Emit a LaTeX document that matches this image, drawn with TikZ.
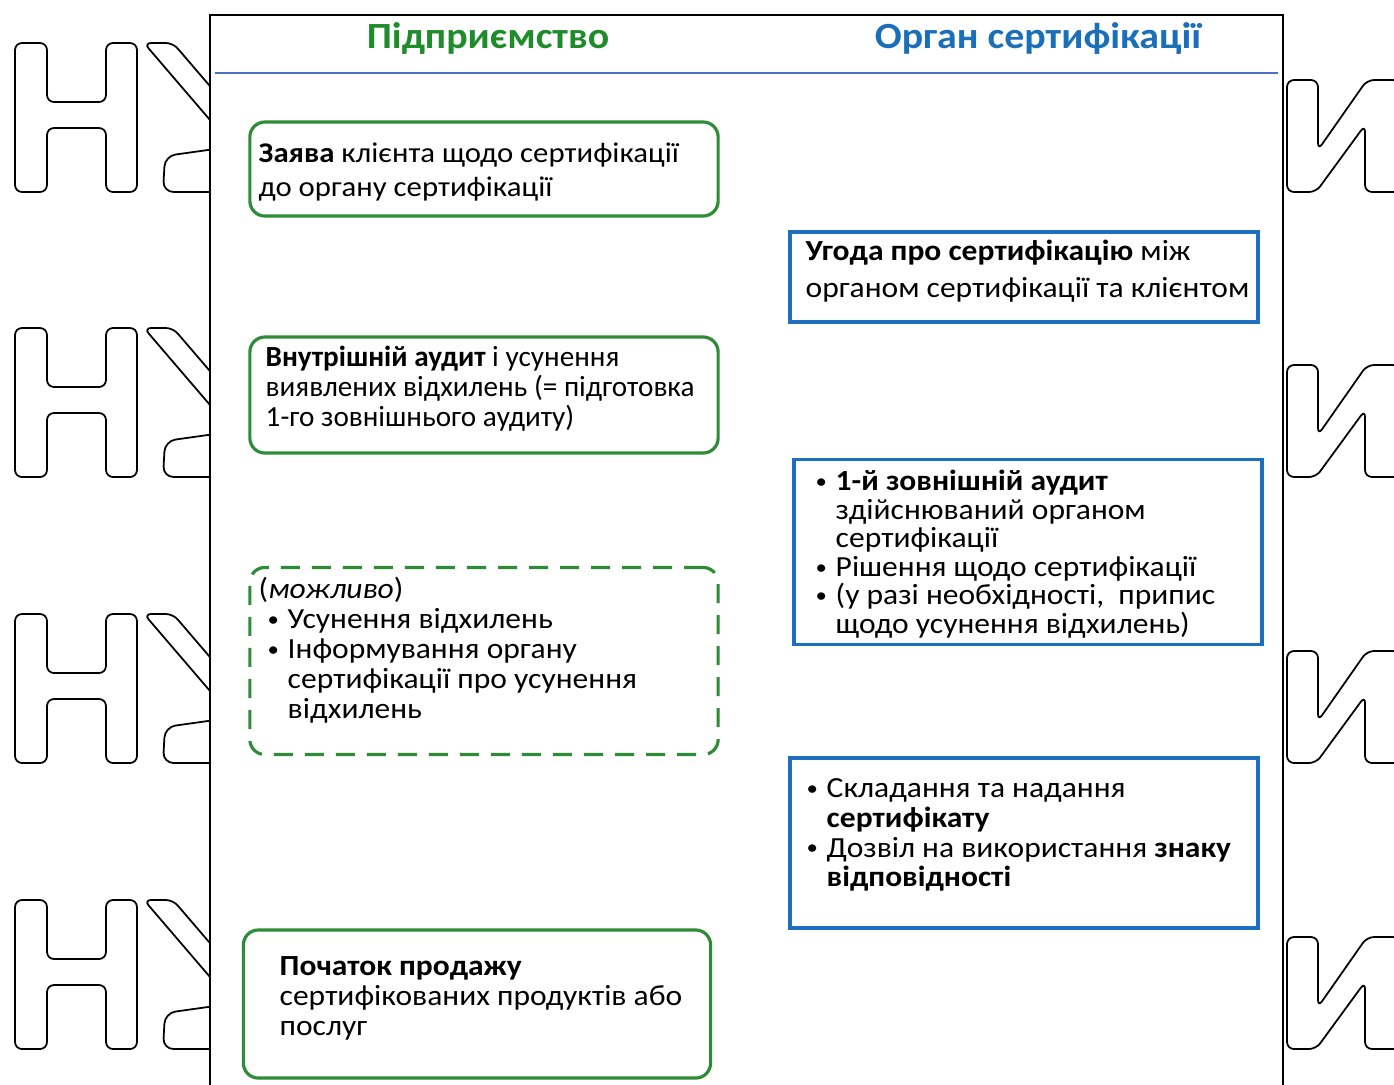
\documentclass[tikz,border=0pt]{standalone}
\usepackage{fontspec}
\setmainfont{Carlito}[FakeStretch=1.08]
\newfontfamily\plainfont{Carlito}
\usetikzlibrary{positioning}

\definecolor{grn}{HTML}{2E8B36}
\definecolor{grnhead}{HTML}{1E8C2A}
\definecolor{blu}{HTML}{1F6FC0}
\definecolor{bluhead}{HTML}{1A6FB8}
\definecolor{rulecol}{HTML}{4A72C4}

\newcommand{\blt}{\makebox[0.2cm][l]{\raisebox{0.15ex}{\fontsize{6}{6}\selectfont\textbullet}}}
\newcommand{\ind}{\hspace*{0.2cm}}

\begin{document}
\begin{tikzpicture}[x=0.01cm, y=-0.01cm,
    letter/.style={draw=black, line width=0.5pt, rounded corners=2pt},
    frame/.style={draw=black, line width=0.6pt, fill=white},
    head/.style={font=\fontsize{10.5}{12}\selectfont\bfseries, inner sep=0pt},
    gbox/.style={draw=grn, line width=0.9pt, rounded corners=0.15cm, minimum width=4.68cm},
    bbox/.style={draw=blu, line width=1pt, minimum width=4.68cm},
    txt/.style={align=left, inner sep=0pt, anchor=west, font=\fontsize{8.3}{8.5}\selectfont}
  ]
  \useasboundingbox (0,0) rectangle (1394,1084);
  \clip (0,0) rectangle (1394,1084);

  % Watermark letters
  \foreach \dy in {0,285,571,857} {
      \draw[letter, shift={(0,\dy)}] (15,43) -- (47,43) -- (47,102) -- (106,102) -- (106,43) -- (137,43) -- (137,192) -- (106,192) -- (106,128) -- (47,128) -- (47,192) -- (15,192) -- cycle;
      \draw[letter, shift={(0,\dy)}] (144,43) -- (173,43) -- (245,127) -- (216,127) -- cycle;
      \draw[letter, shift={(0,\dy)}, rounded corners=3pt] (215,149) -- (165,156) -- (163,192) -- (215,192);
      \draw[letter, shift={(0,\dy)}] (1287,80) -- (1318,80) -- (1318,150) -- (1367,80) -- (1400,80) -- (1400,192) -- (1365,192) -- (1365,125) -- (1316,192) -- (1287,192) -- cycle;
    }

  % Frame and header
  \draw[frame] (210,15) rectangle (1283,1100);
  \draw[rulecol, line width=0.6pt] (215,73) -- (1278,73);
  \node[head, text=grnhead] (firm) at (488,39) {Підприємство};
  \node[head, text=bluhead] (organ) at (1038,39) {Орган сертифікації};

  % Enterprise side
  \node[gbox, minimum height=0.94cm] (zayava) at (484,169) {};
  \node[txt, font=\fontsize{8.1}{9.4}\selectfont] (zayavaT) at (258,172) {\textbf{Заява} клієнта щодо сертифікації\\до органу сертифікації};

  \node[gbox, minimum height=1.16cm] (audyt) at (484,395) {};
  \node[txt, font=\plainfont\fontsize{8.3}{8.5}\selectfont] (audytT) at (265,389) {\textbf{Внутрішній аудит} і усунення\\виявлених відхилень (= підготовка\\1-го зовнішнього аудиту)};

  \node[gbox, dashed, dash pattern=on 0.19cm off 0.12cm, minimum height=1.87cm] (mozhl) at (484,661) {};
  \node[txt] (mozhlT) at (258,650) {(\textit{можливо})\\
    \hspace*{0.09cm}\blt Усунення відхилень\\
    \hspace*{0.09cm}\blt Інформування органу\\
    \hspace*{0.09cm}\ind сертифікації про усунення\\
    \hspace*{0.09cm}\ind відхилень};

  \node[gbox, minimum height=1.48cm, minimum width=4.67cm] (prodazh) at (477,1004) {};
  \node[txt] (prodazhT) at (279,998) {\textbf{Початок продажу}\\сертифікованих продуктів або\\послуг};

  % Certification body side
  \node[bbox, minimum height=0.90cm] (uhoda) at (1024,277) {};
  \node[txt, font=\fontsize{8.3}{10.5}\selectfont] (uhodaT) at (805,271) {\textbf{Угода про сертифікацію} між\\органом сертифікації та клієнтом};

  \node[bbox, minimum height=1.85cm] (zovn) at (1028,552) {};
  \node[txt, font=\fontsize{8.3}{8.1}\selectfont] (zovnT) at (815,554) {\blt\textbf{1-й зовнішній аудит}\\
    \ind здійснюваний органом\\
    \ind сертифікації\\
    \blt Рішення щодо сертифікації\\
    \blt (у разі необхідності,\ \ припис\\
    \ind щодо усунення відхилень)};

  \node[bbox, minimum height=1.70cm] (sertyf) at (1024,843) {};
  \node[txt] (sertyfT) at (806,835) {\blt Складання та надання\\
    \ind\textbf{сертифікату}\\
    \blt Дозвіл на використання \textbf{знаку}\\
    \ind\textbf{відповідності}};

\end{tikzpicture}
\end{document}
